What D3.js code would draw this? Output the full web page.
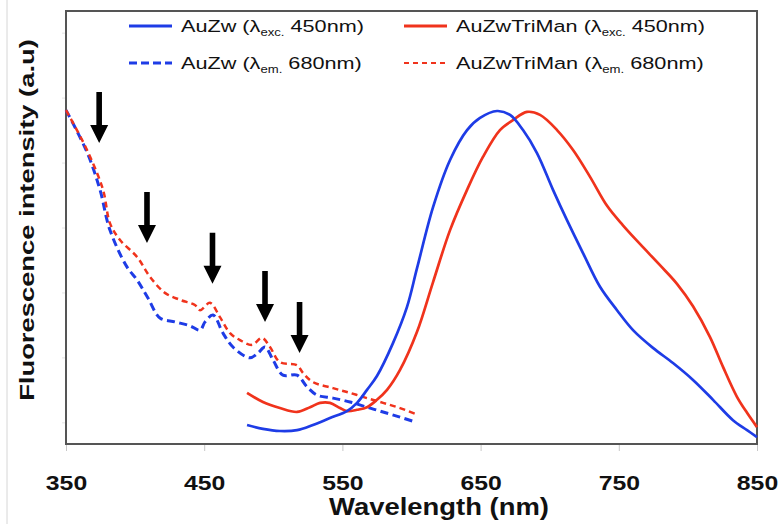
<!DOCTYPE html>
<html><head><meta charset="utf-8">
<script src="https://cdn.jsdelivr.net/npm/d3@7"></script>
<style>body{margin:0;background:#fff}svg{display:block}</style>
</head><body>
<svg id="c" width="783" height="524"></svg>
<script>
// ---- data ----
const xTicks = [350, 450, 550, 650, 750, 850];
const xTitle = "Wavelength (nm)";
const yTitle = "Fluorescence intensity (a.u)";

// AuZw, excitation 450 nm (emission spectrum)
const auzwExcWl = [481,492.5,504.8,517.2,528.7,541,553.3,560.6,567.8,575,586.6,596.7,604,615.6,627.9,640.2,649.6,661.9,671.3,680.7,690.8,702.4,712.5,724.1,736.4,748.7,760.3,774.7,789.2,803.7,818.2,832.6,842.8,850];
const auzwExcI  = [4.4,3.5,3.0,3.2,4.4,6.0,7.6,9.5,12.5,15.7,23.3,31.6,40.6,54.7,65.6,72.5,75.3,76.9,76.0,72.5,67.2,58.7,51.7,44.1,36.3,30.9,26.3,22.2,18.7,14.8,10.2,5.5,3.2,1.6];

// AuZwTriMan, excitation 450 nm
const triExcWl = [481,492.5,504.8,517.2,526.6,533.8,541,548.3,553.3,560.6,567.8,575,582.3,591.7,604,615.6,627.9,640.2,651.7,664,673.4,683.6,693,705.3,716.9,729.2,741.5,753,765.3,779.8,792.1,803.7,816,825.4,835.5,842.8,850];
const triExcI  = [11.8,9.7,8.3,7.4,8.5,9.5,9.5,8.3,7.6,7.9,8.5,10.2,12.5,17.1,25.9,37.4,49.4,58.7,66.3,72.5,74.8,76.7,76.0,72.5,67.9,61.7,55.0,50.5,46.2,41.3,37.0,31.8,24.7,17.8,10.9,7.2,3.9];

// AuZw, emission 680 nm (excitation spectrum)
const auzwEmWl = [350,365.2,374.6,381.8,394.1,401.4,409.3,418,428.9,439.7,447,450.6,456.4,463.6,470.8,483.1,488.9,494,499.8,507,517.2,524.4,531.6,543.2,555.5,567.8,579.4,591.7,602.5];
const auzwEmI  = [77.1,67.4,58.7,49.4,40.9,37.9,33.7,29.1,28.2,27.3,26.3,28.2,29.8,25.6,22.4,19.9,21.0,22.4,19.4,15.9,15.9,13.2,11.3,10.6,9.7,8.5,7.4,6.2,5.1];

// AuZwTriMan, emission 680 nm
const triEmWl = [350,365.2,376.8,381.8,389.1,401.4,410.8,421.6,432.5,443.3,447,454.2,461.4,468.7,475.9,484.6,491.8,497.6,504.8,517.2,521.5,528.7,543.2,555.5,567.8,579.4,591.7,604.7];
const triEmI  = [77.1,67.9,58.7,51.0,47.1,43.2,38.6,34.9,33.3,32.1,30.9,32.6,29.3,25.6,24.0,22.9,24.5,22.4,18.9,18.2,16.4,14.3,12.9,11.8,10.6,9.5,8.3,6.7];

// arrow annotations (wavelength, intensity at tip)
const arrowWl  = [374, 408.6, 456, 494, 519];
const arrowTip = [69.5, 46.4, 37.0, 28.2, 21.0];

const legendNames = ["AuZw", "AuZwTriMan", "AuZw", "AuZwTriMan"];
const legendSub   = ["exc.", "exc.", "em.", "em."];
const legendNm    = ["450nm", "450nm", "680nm", "680nm"];

// ---- drawing ----
const svg = d3.select("#c");
const L = 66, R = 757, T = 11, B = 444;
const x = d3.scaleLinear().domain([350, 850]).range([L, R]);
const y = d3.scaleLinear().domain([0, 100]).range([B, T]);
const BLUE = "#1e3ce6", RED = "#f0331c";
const FONT = "'Liberation Sans', Arial, Helvetica, sans-serif";

// faint outer border line at left
svg.append("line").attr("x1", 7).attr("x2", 7).attr("y1", 0).attr("y2", 524)
  .attr("stroke", "#d6d6d6").attr("stroke-width", 1);

// faint y ticks
svg.append("g").attr("transform", `translate(${L},0)`)
  .call(d3.axisLeft(y).tickValues([5, 20, 35, 50, 65, 80, 95]).tickSize(4).tickFormat(""))
  .call(g => g.select(".domain").remove())
  .call(g => g.selectAll("line").attr("stroke", "#e4e4e4"));

// x axis
const xa = svg.append("g").attr("transform", `translate(0,${B})`)
  .call(d3.axisBottom(x).tickValues(xTicks).tickSize(7).tickFormat(d3.format("d")));
xa.select(".domain").remove();
xa.selectAll(".tick line").attr("stroke", "#c8c8c8").attr("stroke-width", 1);
xa.selectAll(".tick text")
  .attr("font-family", FONT).attr("font-weight", "bold").attr("font-size", 21)
  .attr("fill", "#111").attr("dy", null).attr("y", 46)
  .attr("transform", "scale(1.18,1)")
  .attr("text-anchor", "middle");

// frame
svg.append("rect").attr("x", L).attr("y", T).attr("width", R - L).attr("height", B - T)
  .attr("fill", "none").attr("stroke", "#555").attr("stroke-width", 2);

// stretch helper
function stretchText(sel, tx, ty, target, rot) {
  const w = sel.node().getBBox().width;
  const s = target / w;
  sel.attr("transform", `translate(${tx},${ty})${rot ? " rotate(" + rot + ")" : ""} scale(${s},1)`);
}

// titles
const xt = svg.append("text").attr("font-family", FONT).attr("font-weight", "bold")
  .attr("font-size", 24).attr("text-anchor", "middle").attr("fill", "#111").text(xTitle);
stretchText(xt, 439, 515, 220);
const yt = svg.append("text").attr("font-family", FONT).attr("font-weight", "bold")
  .attr("font-size", 21).attr("text-anchor", "middle").attr("fill", "#111").text(yTitle);
stretchText(yt, 34, 220, 362, -90);

// series
const line = d3.line().x(d => x(d[0])).y(d => y(d[1])).curve(d3.curveCatmullRom.alpha(0.5));
const series = [
  {wl: auzwEmWl, v: auzwEmI, c: BLUE, w: 3, dash: "8,4.5"},
  {wl: triEmWl, v: triEmI, c: RED, w: 2.5, dash: "6,4"},
  {wl: triExcWl, v: triExcI, c: RED, w: 2.7, dash: null},
  {wl: auzwExcWl, v: auzwExcI, c: BLUE, w: 2.7, dash: null}
];
series.forEach(s => {
  svg.append("path").datum(s.wl.map((d, i) => [d, s.v[i]]))
    .attr("d", line).attr("fill", "none").attr("stroke", s.c)
    .attr("stroke-width", s.w).attr("stroke-dasharray", s.dash)
    .attr("stroke-linejoin", "round");
});

// arrows
const AL = 51, HW = 9, HL = 18, SW = 2.8;
arrowWl.forEach((wl, i) => {
  const ax = x(wl), tip = y(arrowTip[i]), top = tip - AL;
  const pts = [[ax - SW, top], [ax + SW, top], [ax + SW, tip - HL], [ax + HW, tip - HL],
               [ax, tip], [ax - HW, tip - HL], [ax - SW, tip - HL]];
  svg.append("path").attr("d", "M" + pts.map(p => p.join(",")).join("L") + "Z").attr("fill", "#000");
});

// legend
const legPos = [[129, 26], [404, 26], [129, 63], [404, 63]];
const legStyle = [
  {c: BLUE, dash: null, w: 3}, {c: RED, dash: null, w: 3},
  {c: BLUE, dash: "8,4", w: 3}, {c: RED, dash: "5,4", w: 2}
];
const legWidths = [183, 249, 181, 248];
legendNames.forEach((n, i) => {
  const [lx, ly] = legPos[i];
  svg.append("line").attr("x1", lx).attr("x2", lx + 43).attr("y1", ly).attr("y2", ly)
    .attr("stroke", legStyle[i].c).attr("stroke-width", legStyle[i].w)
    .attr("stroke-dasharray", legStyle[i].dash);
  const t = svg.append("text").attr("font-family", FONT).attr("font-size", 16.5).attr("fill", "#111");
  t.append("tspan").text(n + " (λ");
  t.append("tspan").attr("font-size", 10).attr("dy", 4).text(legendSub[i]);
  t.append("tspan").attr("dy", -4).text(" " + legendNm[i] + ")");
  stretchText(t, lx + 52, ly + 6, legWidths[i]);
});
</script>
</body></html>
